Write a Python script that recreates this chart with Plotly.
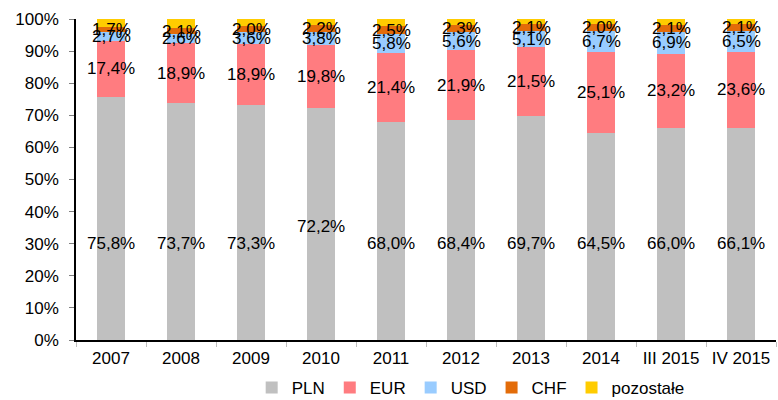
import plotly.graph_objects as go

years = ["2007", "2008", "2009", "2010", "2011", "2012", "2013", "2014", "III 2015", "IV 2015"]

pln = [75.8, 73.7, 73.3, 72.2, 68.0, 68.4, 69.7, 64.5, 66.0, 66.1]
eur = [17.4, 18.9, 18.9, 19.8, 21.4, 21.9, 21.5, 25.1, 23.2, 23.6]
usd = [2.7, 2.6, 3.6, 3.8, 5.8, 5.6, 5.1, 6.7, 6.9, 6.5]
chf = [1.7, 2.1, 2.0, 2.2, 2.5, 2.3, 2.1, 2.0, 2.1, 2.1]
# reszta do 100%
other = [round(100 - a - b - c - d, 1) for a, b, c, d in zip(pln, eur, usd, chf)]

colors = {"PLN": "#C0C0C0", "EUR": "#FF7C80", "USD": "#99CCFF", "CHF": "#E36C09", "pozostałe": "#FFCC00"}
FONT = "Arial, Liberation Sans, sans-serif"


def pct(v):
    return f"{v:.1f}".replace(".", ",") + "%"


fig = go.Figure()
for name, vals in [("PLN", pln), ("EUR", eur), ("USD", usd), ("CHF", chf), ("pozostałe", other)]:
    fig.add_trace(go.Bar(name=name, x=years, y=vals, marker_color=colors[name], marker_line_width=0))

# etykiety danych (x jako indeks kategorii)
for i, yr in enumerate(years):
    base = 0
    for name, vals in [("PLN", pln), ("EUR", eur), ("USD", usd), ("CHF", chf)]:
        if name == "PLN":
            ypos = 35.5 if yr == "2010" else 30
        else:
            ypos = base + vals[i] / 2
        fig.add_annotation(x=i, y=ypos, text=pct(vals[i]), showarrow=False,
                           font=dict(family=FONT, size=17, color="black"))
        base += vals[i]

fig.update_layout(
    barmode="stack",
    bargap=0.6,
    width=778,
    height=400,
    margin=dict(l=76, r=2, t=19, b=60, autoexpand=False),
    paper_bgcolor="white",
    plot_bgcolor="white",
    font=dict(family=FONT, size=17, color="black"),
    showlegend=True,
    legend=dict(orientation="h", x=0.605, xanchor="center", xref="container",
                y=0.03, yanchor="middle", yref="container", bgcolor="rgba(0,0,0,0)",
                traceorder="normal", font=dict(size=17)),
)
fig.update_xaxes(type="category", tickangle=0, showline=True, linecolor="black", linewidth=1.5,
                 ticks="outside", tickson="boundaries", ticklen=5, tickcolor="#BFBFBF", showgrid=False,
                 range=[-0.5, len(years) - 0.5], ticklabelstandoff=2, automargin=False)
fig.update_yaxes(range=[0, 100], dtick=10, ticksuffix="%", showline=True, linecolor="black", linewidth=1.5,
                 ticks="outside", ticklen=5, tickcolor="#808080", showgrid=False, zeroline=False,
                 ticklabelstandoff=7, automargin=False)

fig.write_html("out.html", config={"displayModeBar": False},
               post_script="document.body.style.margin='0';")
